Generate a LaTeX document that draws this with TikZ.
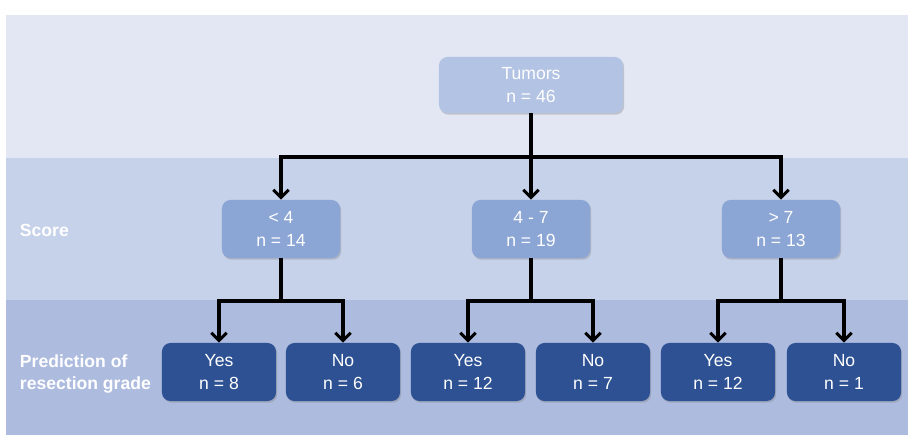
\documentclass[tikz,border=0pt]{standalone}
\usepackage{fontspec}
\setmainfont{Liberation Sans}
\usepackage{xcolor}
\usetikzlibrary{arrows.meta,shadows}
\definecolor{bandA}{HTML}{E3E7F4}
\definecolor{bandB}{HTML}{C6D1EA}
\definecolor{bandC}{HTML}{ADBBDF}
\definecolor{boxA}{HTML}{B3C3E3}
\definecolor{boxB}{HTML}{8BA5D5}
\definecolor{boxC}{HTML}{2D5192}
\begin{document}
\begin{tikzpicture}[x=0.025cm, y=-0.025cm,
    box/.style={rounded corners=6pt, inner sep=0pt, align=center, text=white,
        font=\fontsize{12.5}{16.5}\selectfont,
        drop shadow={opacity=0.35, shadow xshift=0.8pt, shadow yshift=-1.2pt}},
    top/.style={box, fill=boxA, minimum width=4.6cm, minimum height=1.4cm},
    mid/.style={box, fill=boxB, minimum width=2.95cm, minimum height=1.45cm},
    leaf/.style={box, fill=boxC, minimum width=2.85cm, minimum height=1.45cm},
    link/.style={line width=2.2pt, black},
    arr/.style={link, -{Straight Barb[length=5.5pt, width=11pt, line width=2.2pt]}},
    band/.style={font=\fontsize{12.5}{15}\selectfont\bfseries, text=white, align=left, anchor=west}]
    \useasboundingbox (0,0) rectangle (908,435);
    % bands
    \fill[white] (0,0) rectangle (908,435);
    \fill[bandA] (6,15) rectangle (908,158);
    \fill[bandB] (6,158) rectangle (908,300);
    \fill[bandC] (6,300) rectangle (908,435);
    \node[band] (lscore) at (15,230) {Score};
    \node[band] (lpred) at (15,374) {Prediction of\\resection grade};

    % root
    \node[top] (tum) at (531,85) {Tumors\\n = 46};

    % score
    \node[mid] (lt) at (281,229) {< 4\\n = 14};
    \node[mid] (md) at (531,229) {4 - 7\\n = 19};
    \node[mid] (gt) at (781,229) {> 7\\n = 13};

    % prediction
    \node[leaf] (y1) at (219,372) {Yes\\n = 8};
    \node[leaf] (n1) at (343,372) {No\\n = 6};
    \node[leaf] (y2) at (468,372) {Yes\\n = 12};
    \node[leaf] (n2) at (593,372) {No\\n = 7};
    \node[leaf] (y3) at (718,372) {Yes\\n = 12};
    \node[leaf] (n3) at (844,372) {No\\n = 1};

    % connectors
    \coordinate (j0) at (531,157);
    \draw[link] (tum.south) -- (j0);
    \draw[arr] (j0) -| (lt.north);
    \draw[arr] (j0) -| (gt.north);
    \draw[arr] (j0) -- (md.north);

    \coordinate (j1) at (281,301);
    \coordinate (j2) at (531,301);
    \coordinate (j3) at (781,301);
    \draw[link] (lt.south) -- (j1);
    \draw[link] (md.south) -- (j2);
    \draw[link] (gt.south) -- (j3);
    \draw[arr] (j1) -| (y1.north);
    \draw[arr] (j1) -| (n1.north);
    \draw[arr] (j2) -| (y2.north);
    \draw[arr] (j2) -| (n2.north);
    \draw[arr] (j3) -| (y3.north);
    \draw[arr] (j3) -| (n3.north);
\end{tikzpicture}
\end{document}
